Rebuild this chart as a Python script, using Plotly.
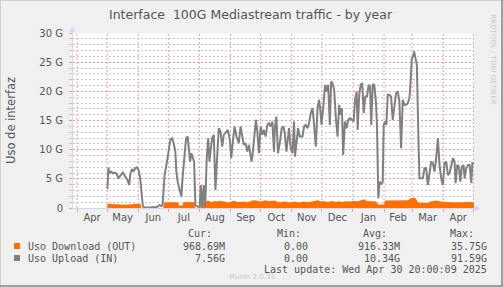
import pandas as pd
import plotly.graph_objects as go

# ---------------- data ----------------
start_date = "2024-04-01"
# Upload (IN), days since start_date, values in G
upload_days = [30.3, 31.3, 32.3, 34, 35.7, 38, 39.7, 41.3, 43.7, 45.7, 48, 50.3, 52, 53, 54.7, 56.3, 58, 59.7,
               61.3, 63, 64.7, 65.7, 68, 74.7, 79.7, 82, 84, 85.3, 87.3, 89.7, 91.3, 93, 94.7, 96.3, 98, 99,
               100.3, 102, 104, 105.3, 107, 108.7, 110.3, 111.3, 112.7, 114, 115.3, 116.7, 118, 120.3, 122.3,
               123.3, 124.7, 126.3, 127.7, 128.3, 129.3, 130.7, 132, 133, 134.7, 136.3, 138, 139.7, 141.3, 143,
               144.7, 146.3, 148.7, 150.3, 152.3, 153.7, 155.3, 157, 159, 161.3, 163, 164.7, 166.3, 168, 169.7,
               171.3, 173, 174, 175.3, 177, 178.3, 179.7, 181.3, 183, 184.7, 186.3, 188, 189.7, 191.3, 193,
               194.7, 196.3, 197.3, 198.7, 200.3, 202.3, 204, 205.7, 207, 208.7, 210, 211.3, 213, 214.7, 216.3,
               217.3, 218.7, 220.3, 222, 224.7, 226.3, 228, 229.7, 231.3, 233, 234.7, 236.3, 238, 239.7, 241.3,
               242.3, 243.7, 245.3, 247.3, 248.7, 250.3, 252, 253.3, 254.7, 256.3, 258, 259.7, 261.3, 262.7, 264,
               265.3, 267, 268.7, 270.3, 272.3, 274, 275.7, 277, 278.7, 279.7, 281.3, 282.7, 284.3, 285.7, 287.3,
               289, 290.7, 292, 293.3, 294.7, 296.3, 298, 299, 300.3, 301.7, 303, 304.7, 305.7, 307, 308.3, 309.7,
               311.3, 313, 314.7, 316.3, 318, 319.7, 321.3, 323, 324.7, 326.3, 328, 329.7, 331.3, 332.3, 333.7,
               335, 336, 337.3, 338.7, 340.3, 341.3, 343, 344.7, 346.3, 348, 349.7, 351.3, 353, 354.7, 356.3, 358,
               359.7, 361.3, 363, 364.7, 366.3, 368, 369.7, 371.3, 373, 374.7, 376.3, 377.3, 379, 380.7, 382,
               383.7, 385.3, 386.3, 388, 389.7, 391.3, 393, 394, 395.7]
upload_vals = [3.26, 6.93, 5.95, 6.24, 5.95, 6.07, 5.78, 5.09, 5.67, 6.07, 5.38, 4.81, 3.95, 5.67, 6.70, 6.24, 6.81, 6.93,
               6.53, 5.09, 1.95, 0.23, 0.06, 0.06, 0.17, 0.5, 0.34, 0.5, 5.67, 7.96, 9.67, 11.68, 11.96, 11.1, 9.67, 6.24,
               4.52, 3.38, 1.95, 5.38, 8.82, 11.96, 12.25, 10.25, 7.96, 9.39, 8.53, 7.96, 0.5, 0.23, 0.23,
               3.95, 0.23, 3.95, 0.23, 3.95, 8.53, 11.96, 7.96, 9.67, 11.96, 12.54, 3.09, 8.82, 13.68, 13.11,
               10.53, 12.54, 13.11, 13.39, 11.68, 8.53, 11.39, 13.97, 12.25, 11.1, 13.97, 12.54, 10.82, 11.1, 9.67,
               10.82, 9.1, 7.96, 9.67, 12.54, 15.11, 13.11, 9.39, 13.97, 12.54, 13.39, 12.25, 14.25, 14.54, 13.97,
               14.83, 9.67, 13.97, 15.68, 9.39, 11.39, 13.68, 13.97, 12.82, 9.67, 11.39, 13.68, 10.25, 9.39, 14.83,
               8.82, 11.1, 13.68, 12.25, 12.25, 13.97, 14.25, 13.68, 14.54, 16.26, 17.12, 14.25, 10.53, 17.12, 18.55,
               17.12, 14.25, 17.12, 21.12, 19.98, 21.12, 14.25, 21.69, 21.41, 20.26, 15.4, 12.25, 17.69, 15.97, 17.12,
               9.1, 14.83, 13.68, 15.11, 15.4, 15.11, 14.83, 18.26, 19.98, 13.39, 19.4, 21.12, 21.41, 16.26, 19.12,
               19.12, 21.12, 20.84, 14.25, 21.12, 21.12, 17.97, 13.97, 1.66, 4.52, 4.06, 4.52, 14.25, 14.83, 14.25, 19.4,
               19.4, 19.12, 15.11, 17.69, 19.69, 19.98, 18.26, 10.25, 18.55, 17.69, 17.69, 17.97, 18.83, 21.12, 25.7,
               25.99, 26.85, 25.7, 24.56, 11.68, 5.09, 5.09, 5.09, 6.81, 6.81, 3.95, 6.24, 7.96, 7.67, 6.24, 8.53,
               11.96, 7.38, 5.09, 3.95, 7.67, 7.96, 5.67, 5.95, 7.38, 8.53, 7.96, 4.24, 7.38, 7.1, 4.52,
               7.1, 7.38, 5.09, 6.81, 7.38, 7.38, 4.24, 7.67, 7.56]

# Download (OUT), days since start_date, values in G
download_days = [30.3, 33, 36, 40, 44, 48, 52, 55, 58, 62, 63.5, 64, 86, 87, 90, 93, 96, 99, 101, 102, 105, 106,
                 110, 114, 117, 118, 123, 123.5, 128, 131, 134, 137, 140, 143, 145, 148, 151, 154, 157, 160, 163,
                 166, 170, 173, 176, 179, 182, 185, 188, 191, 194, 197, 200, 203, 206, 210, 213, 216, 219, 222,
                 225, 228, 231, 234, 237, 240, 243, 246, 249, 252, 255, 258, 261, 264, 268, 272, 276, 280, 283,
                 286, 289, 292, 295, 298, 300, 303, 306, 307, 310, 314, 318, 322, 326, 330, 333, 336, 338, 340,
                 345, 350, 352, 356, 359, 362, 365, 368, 372, 376, 380, 384, 388, 392, 395.7]
download_vals = [0.72, 0.68, 0.72, 0.65, 0.6, 0.57, 0.6, 0.7, 0.72, 0.7, 0.7, 0.0, 0.0, 1.0, 1.0, 1.05, 0.95, 1.0, 0.9,
                 0.45, 0.45, 1.0, 1.05, 1.0, 1.0, 0.0, 0.0, 1.0, 1.1, 1.3, 1.0, 1.2, 1.1, 1.25, 1.2, 1.0, 0.95,
                 1.1, 1.25, 1.0, 1.05, 1.1, 1.0, 1.2, 1.35, 1.3, 1.1, 1.2, 1.35, 1.15, 1.2, 1.3, 1.05, 1.0, 1.1,
                 1.05, 0.95, 1.1, 1.0, 0.95, 1.1, 1.05, 1.0, 1.1, 1.2, 1.35, 1.1, 1.2, 1.05, 1.1, 1.2, 1.0, 1.15,
                 1.05, 1.15, 1.1, 1.2, 1.15, 1.3, 1.5, 1.2, 1.15, 1.2, 1.1, 0.6, 0.55, 0.6, 1.3, 1.3, 1.25, 1.35,
                 1.3, 1.3, 1.35, 1.7, 1.75, 1.6, 0.9, 0.9, 0.9, 1.1, 1.2, 1.3, 1.1, 1.05, 1.0, 1.05, 0.95, 1.0,
                 1.05, 1.0, 1.05, 0.97]

month_starts = ["2024-04-01", "2024-05-01", "2024-06-01", "2024-07-01", "2024-08-01", "2024-09-01",
                "2024-10-01", "2024-11-01", "2024-12-01", "2025-01-01", "2025-02-01", "2025-03-01",
                "2025-04-01", "2025-05-01"]
month_labels = ["Apr", "May", "Jun", "Jul", "Aug", "Sep", "Oct", "Nov", "Dec", "Jan", "Feb", "Mar", "Apr"]
y_tickvals = [0, 5, 10, 15, 20, 25, 30]
y_ticktext = ["0", "5 G", "10 G", "15 G", "20 G", "25 G", "30 G"]

legend_names = ["Uso Download (OUT)", "Uso Upload (IN)"]
legend_colors = ["#FF7000", "#808080"]
cur_vals = ["968.69M", "7.56G"]
min_vals = ["0.00", "0.00"]
avg_vals = ["916.33M", "10.34G"]
max_vals = ["35.75G", "91.59G"]

title_text = "Interface\u00a0 100G Mediastream traffic - by year"
ylabel = "Uso de interfaz"
last_update = "Last update: Wed Apr 30 20:00:09 2025"

# ---------------- build ----------------
t0 = pd.Timestamp(start_date)
up_x = [t0 + pd.to_timedelta(d, unit="D") for d in upload_days]
dn_x = [t0 + pd.to_timedelta(d, unit="D") for d in download_days]
ms = pd.to_datetime(month_starts)
mid = [ms[i] + (ms[i + 1] - ms[i]) / 2 for i in range(len(month_labels))]

W, H = 503, 287
L, R, T, B = 73, 29, 33, 79
PW, PH = W - L - R, H - T - B


def px(x):
    return (x - L) / PW


def py(y):
    return (H - B - y) / PH


FONT = "DejaVu Sans"
MONO = "DejaVu Sans Mono"
TXT = "#555555"
AXISC = "#CFD6F8"
MGRID = "#F09A9A"
GRID = "#C8C8C8"
MDASH = "2px,2px"
DASH = "2px,2px"

fig = go.Figure()
fig.add_trace(go.Scatter(x=dn_x, y=download_vals, mode="lines", line=dict(width=0, color=legend_colors[0]),
                         fill="tozeroy", fillcolor=legend_colors[0], showlegend=False, hoverinfo="skip"))
fig.add_trace(go.Scatter(x=up_x, y=upload_vals, mode="lines", line=dict(width=2, color=legend_colors[1]),
                         showlegend=False, hoverinfo="skip"))

fig.update_layout(
    width=W, height=H,
    margin=dict(l=L, r=R, t=T, b=B, pad=0, autoexpand=False),
    paper_bgcolor="#F0F0F0", plot_bgcolor="#FFFFFF",
    font=dict(family=FONT, size=10, color=TXT),
    showlegend=False,
)
fig.update_xaxes(
    type="date", range=["2024-03-28", "2025-05-01 16:00"],
    tickmode="array", tickvals=mid, ticktext=month_labels, ticks="",
    showgrid=False, zeroline=False, showline=False,
    tickfont=dict(family=FONT, size=10, color=TXT), ticklabelstandoff=2,
    minor=dict(tickmode="array", tickvals=list(ms), showgrid=False,
               ticks="outside", ticklen=3, tickcolor=MGRID),
)
fig.update_yaxes(
    range=[0, 30], tickmode="array", tickvals=y_tickvals, ticktext=y_ticktext,
    showgrid=True, gridcolor=MGRID, griddash=MDASH, gridwidth=1,
    ticks="outside", ticklen=3, tickcolor=MGRID, zeroline=False, showline=False,
    tickfont=dict(family=FONT, size=10, color=TXT), ticklabelstandoff=4,
    minor=dict(dtick=1, showgrid=True, gridcolor=GRID, griddash=DASH, gridwidth=1,
               ticks="outside", ticklen=3, tickcolor=GRID),
)

shapes = []
# month-start grid lines (drawn below data)
for d in ms:
    shapes.append(dict(type="line", xref="x", yref="paper", x0=d, x1=d, y0=0, y1=1, layer="below",
                       line=dict(color=MGRID, width=1, dash=MDASH)))
# axes with arrows
shapes.append(dict(type="line", xref="paper", yref="paper", x0=px(72.5), x1=px(72.5), y0=py(208), y1=py(29),
                   line=dict(color=AXISC, width=1)))
shapes.append(dict(type="line", xref="paper", yref="paper", x0=px(72), x1=px(478), y0=py(208.5), y1=py(208.5),
                   line=dict(color=AXISC, width=1)))
shapes.append(dict(type="path", xref="paper", yref="paper",
                   path=f"M {px(69.5)} {py(32)} L {px(75.5)} {py(32)} L {px(72.5)} {py(27)} Z",
                   fillcolor=AXISC, line=dict(width=0)))
shapes.append(dict(type="path", xref="paper", yref="paper",
                   path=f"M {px(475)} {py(205.5)} L {px(475)} {py(211.5)} L {px(480)} {py(208.5)} Z",
                   fillcolor=AXISC, line=dict(width=0)))
# legend squares
for i, c in enumerate(legend_colors):
    yc = 246 + 12 * i
    shapes.append(dict(type="rect", xref="paper", yref="paper", x0=px(14), x1=px(20), y0=py(yc - 3), y1=py(yc + 3),
                       fillcolor=c, line=dict(width=0)))
# image border (shade)
shapes.append(dict(type="line", xref="paper", yref="paper", x0=px(0), x1=px(W), y0=py(0.5), y1=py(0.5),
                   line=dict(color="#CFCFCF", width=1)))
shapes.append(dict(type="line", xref="paper", yref="paper", x0=px(0.5), x1=px(0.5), y0=py(0), y1=py(H),
                   line=dict(color="#CFCFCF", width=1)))
shapes.append(dict(type="line", xref="paper", yref="paper", x0=px(W - 1), x1=px(W - 1), y0=py(0), y1=py(H),
                   line=dict(color="#9E9E9E", width=2)))
shapes.append(dict(type="line", xref="paper", yref="paper", x0=px(0), x1=px(W), y0=py(H - 1), y1=py(H - 1),
                   line=dict(color="#9E9E9E", width=2)))
fig.update_layout(shapes=shapes)

ann = []


def text(x, y, s, xanchor="left", size=10, family=MONO, color=TXT, angle=0):
    ann.append(dict(x=px(x), y=py(y), xref="paper", yref="paper", text=s, showarrow=False,
                    xanchor=xanchor, yanchor="middle", textangle=angle,
                    font=dict(family=family, size=size, color=color)))


text(251, 14, title_text, xanchor="center", size=12.5, family=FONT)
text(11, 121, ylabel, xanchor="center", size=11.5, family=FONT, angle=-90)
text(492.5, 59, "RRDTOOL / TOBI OETIKER", xanchor="center", size=7, family=FONT, color="#C8C8C8", angle=90)

text(214, 233.5, "Cur:", xanchor="right")
text(303, 233.5, "Min:", xanchor="right")
text(389, 233.5, "Avg:", xanchor="right")
text(476, 233.5, "Max:", xanchor="right")
for i, name in enumerate(legend_names):
    yc = 246 + 12 * i
    text(26, yc, name)
    text(227, yc, cur_vals[i], xanchor="right")
    text(310, yc, min_vals[i], xanchor="right")
    text(402, yc, avg_vals[i], xanchor="right")
    text(489, yc, max_vals[i], xanchor="right")
text(489, 269.5, last_update, xanchor="right")
text(252, 277, "Munin 2.0.33", xanchor="center", size=7, family=FONT, color="#C8C8C8")
fig.update_layout(annotations=ann)

fig.write_html("out.html")
